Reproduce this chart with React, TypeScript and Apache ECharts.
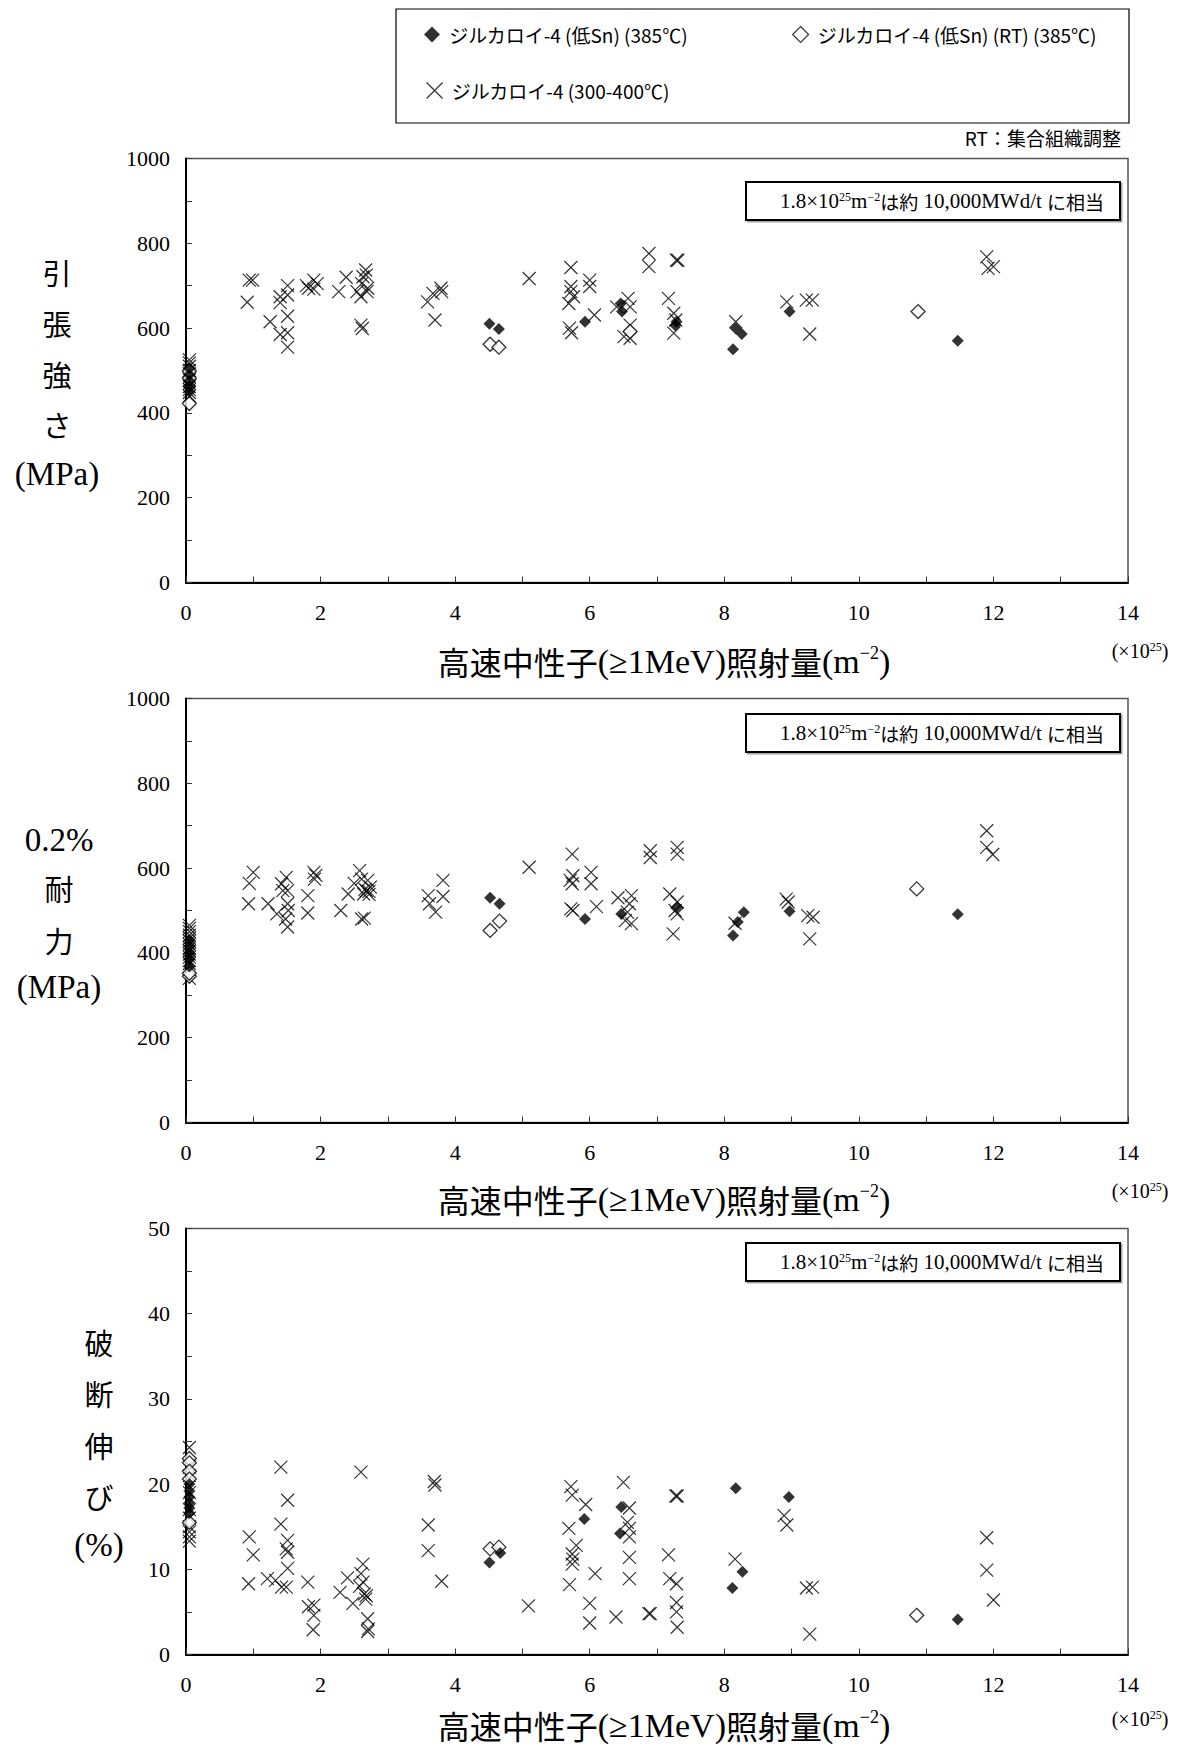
import React, { useEffect, useRef } from "react";
import * as echarts from "echarts";

// ---------- names ----------
const N_FILLED = "ジルカロイ-4 (低Sn) (385℃)";
const N_OPEN = "ジルカロイ-4 (低Sn) (RT) (385℃)";
const N_CROSS = "ジルカロイ-4 (300-400℃)";

// ---------- tick labels ----------
const X_LABELS = [0, 2, 4, 6, 8, 10, 12, 14];
const Y_LABELS_MPA = [0, 200, 400, 600, 800, 1000];
const Y_LABELS_PCT = [0, 10, 20, 30, 40, 50];

// ---------- tensile strength (MPa) ----------
const TS_CROSS: number[][] = [
  [0.05, 525], [0.05, 518], [0.05, 510], [0.05, 500], [0.05, 492], [0.05, 485], [0.05, 478], [0.05, 470],
  [0.05, 462], [0.05, 455], [0.05, 448], [0.05, 440],
  [0.91, 661], [0.94, 713], [0.99, 713], [1.25, 615], [1.4, 660], [1.4, 674], [1.4, 585],
  [1.51, 700], [1.51, 678], [1.51, 628], [1.51, 589], [1.51, 555],
  [1.79, 700], [1.82, 694], [1.9, 713], [1.9, 692], [1.95, 705],
  [2.27, 686], [2.38, 720], [2.54, 686], [2.6, 674], [2.61, 705], [2.63, 721], [2.67, 737], [2.68, 725],
  [2.69, 686], [2.7, 694], [2.6, 607], [2.62, 599],
  [3.59, 662], [3.67, 682], [3.79, 694], [3.8, 686], [3.7, 619],
  [5.1, 717],
  [5.72, 743], [5.72, 698], [5.72, 686], [5.69, 658], [5.76, 674], [5.7, 600], [5.73, 589],
  [6.0, 713], [6.0, 698], [6.07, 631],
  [6.4, 650], [6.57, 670], [6.6, 650], [6.6, 607], [6.51, 580], [6.6, 576],
  [6.88, 776], [6.88, 745],
  [7.29, 760], [7.31, 760],
  [7.17, 670], [7.25, 635], [7.25, 588], [7.28, 619],
  [8.17, 615], [8.93, 662],
  [9.22, 666], [9.31, 666], [9.27, 586],
  [11.9, 768], [11.92, 741], [12.0, 745],
];
const TS_OPEN: number[][] = [
  [0.05, 422], [0.05, 482], [0.05, 498], [4.52, 562], [4.65, 555], [6.6, 592], [10.88, 639],
];
const TS_FILLED: number[][] = [
  [0.05, 505], [0.05, 490], [0.05, 475], [0.05, 462], [0.05, 450],
  [4.51, 610], [4.65, 598], [5.93, 615], [6.46, 658], [6.48, 639], [7.29, 615], [7.27, 607],
  [8.13, 550], [8.17, 599], [8.26, 586], [8.97, 639], [11.47, 570],
];

// ---------- 0.2% proof stress (MPa) ----------
const YS_CROSS: number[][] = [
  [0.05, 465], [0.05, 458], [0.05, 450], [0.05, 442], [0.05, 435], [0.05, 428], [0.05, 420], [0.05, 412],
  [0.05, 405], [0.05, 397], [0.05, 390], [0.05, 382], [0.05, 375], [0.05, 340],
  [0.94, 564], [1.0, 590], [0.93, 516], [1.22, 516], [1.35, 492], [1.42, 563], [1.44, 547], [1.48, 480],
  [1.49, 578], [1.51, 547], [1.51, 516], [1.52, 500], [1.51, 461],
  [1.81, 535], [1.81, 494], [1.9, 590], [1.91, 574], [1.93, 583],
  [2.3, 500], [2.41, 539], [2.5, 564], [2.58, 594], [2.61, 574], [2.64, 539], [2.68, 547], [2.7, 571],
  [2.61, 480], [2.65, 482], [2.66, 550], [2.72, 545], [2.74, 555], [2.72, 538],
  [3.6, 535], [3.62, 516], [3.71, 496], [3.82, 571], [3.82, 533],
  [5.1, 602],
  [5.74, 633], [5.71, 571], [5.74, 563], [5.75, 582], [5.72, 504], [5.75, 500],
  [6.02, 590], [6.02, 563], [6.1, 509],
  [6.42, 530], [6.53, 476], [6.59, 516], [6.62, 535], [6.56, 496], [6.62, 469],
  [6.9, 641], [6.9, 625], [7.3, 649], [7.3, 633],
  [7.19, 539], [7.3, 520], [7.27, 500], [7.24, 445], [7.3, 492],
  [8.16, 470], [8.92, 527], [8.95, 520],
  [9.24, 488], [9.32, 484], [9.27, 433],
  [11.9, 688], [11.9, 649], [11.99, 632],
];
const YS_OPEN: number[][] = [
  [0.05, 345], [0.05, 352], [4.52, 453], [4.66, 475], [10.86, 551],
];
const YS_FILLED: number[][] = [
  [0.05, 430], [0.05, 415], [0.05, 400], [0.05, 385], [0.05, 368],
  [4.52, 530], [4.66, 516], [5.93, 480], [6.47, 492], [7.3, 508], [8.13, 441], [8.2, 473], [8.29, 496],
  [8.97, 498], [11.47, 491],
];

// ---------- elongation (%) ----------
const EL_CROSS: number[][] = [
  [0.05, 24.3], [0.05, 22.0], [0.05, 21.0], [0.05, 19.0], [0.05, 17.0], [0.05, 16.0], [0.05, 15.0],
  [0.05, 14.4], [0.05, 13.8], [0.05, 13.3],
  [0.94, 13.8], [1.0, 11.7], [0.93, 8.3], [1.21, 8.9], [1.33, 8.7], [1.41, 22.0], [1.41, 15.3], [1.42, 7.9],
  [1.51, 18.1], [1.51, 13.4], [1.49, 12.4], [1.51, 12.0], [1.51, 10.1], [1.49, 7.9],
  [1.81, 8.5], [1.82, 5.6], [1.9, 5.8], [1.9, 4.6], [1.89, 2.9],
  [2.29, 7.3], [2.4, 9.0], [2.48, 6.0], [2.58, 8.0], [2.6, 21.4], [2.63, 10.6], [2.6, 9.5], [2.63, 8.5],
  [2.65, 7.1], [2.68, 6.9], [2.67, 6.5], [2.7, 4.2], [2.7, 2.7], [2.71, 3.0],
  [3.6, 15.2], [3.6, 12.2], [3.69, 20.3], [3.7, 19.9], [3.8, 8.6],
  [5.09, 5.7],
  [5.72, 19.7], [5.74, 18.7], [5.69, 14.8], [5.8, 12.8], [5.74, 11.8], [5.75, 11.2], [5.74, 10.6], [5.7, 8.2],
  [5.94, 17.6], [6.0, 6.0], [6.0, 3.7], [6.08, 9.5],
  [6.39, 4.4], [6.5, 20.2], [6.59, 17.2], [6.56, 15.5], [6.59, 14.8], [6.59, 13.8], [6.59, 11.4], [6.59, 8.9],
  [6.88, 4.8], [6.9, 4.8],
  [7.17, 11.7], [7.19, 8.9], [7.29, 8.3], [7.29, 6.1], [7.29, 5.0], [7.3, 3.2], [7.28, 18.6], [7.3, 18.6],
  [8.16, 11.2], [8.89, 16.3], [8.93, 15.2],
  [9.22, 7.8], [9.31, 7.9], [9.27, 2.4],
  [11.9, 13.7], [11.9, 9.9], [12.0, 6.4],
];
const EL_OPEN: number[][] = [
  [0.05, 23.0], [0.05, 22.5], [0.05, 21.5], [0.05, 20.6], [0.05, 15.5],
  [4.52, 12.4], [4.65, 12.6], [10.86, 4.6],
];
const EL_FILLED: number[][] = [
  [0.05, 20.0], [0.05, 19.2], [0.05, 18.5], [0.05, 17.8], [0.05, 17.2], [0.05, 16.6],
  [4.51, 10.8], [4.67, 11.9], [5.92, 15.9], [6.47, 17.3], [6.45, 14.2], [8.17, 19.5], [8.27, 9.7],
  [8.12, 7.8], [8.96, 18.5], [11.47, 4.1],
];

// ---------- texts ----------
const X_TITLE = "高速中性子{l|(≥1MeV)}照射量{l|(m}{s|−2}{l|)}";
const X_UNIT = "(×10{s|25})";
const NOTE = "1.8×10{s|25}m{s|−2}{j|は約} 10,000MWd/t {j|に相当}";
const RT_NOTE = "RT：集合組織調整";
const Y_TITLES = [
  ["引", "張", "強", "さ", "(MPa)"],
  ["0.2%", "耐", "力", "(MPa)"],
  ["破", "断", "伸", "び", "(%)"],
];

const SERIF = '"Liberation Serif", "DejaVu Serif", "Noto Sans CJK JP", serif';
const CJK = '"Noto Sans CJK JP", "Liberation Serif", sans-serif';
const CROSS = "path://M0,0L10,10M10,0L0,10";

const PANELS = [
  { cross: TS_CROSS, open: TS_OPEN, filled: TS_FILLED, yMax: 1000, yStep: 100, yLabels: Y_LABELS_MPA,
    top: 158.5, height: 424, titleY: 661, unitY: 651, noteY: 182,
    yTitleX: 57, yTitleYs: [272, 323, 374, 424, 474] },
  { cross: YS_CROSS, open: YS_OPEN, filled: YS_FILLED, yMax: 1000, yStep: 100, yLabels: Y_LABELS_MPA,
    top: 698.5, height: 424, titleY: 1199, unitY: 1191, noteY: 714,
    yTitleX: 59, yTitleYs: [840, 888, 940, 987] },
  { cross: EL_CROSS, open: EL_OPEN, filled: EL_FILLED, yMax: 50, yStep: 5, yLabels: Y_LABELS_PCT,
    top: 1228.5, height: 426, titleY: 1725, unitY: 1719, noteY: 1243,
    yTitleX: 99, yTitleYs: [1342, 1393, 1445, 1496, 1545] },
];

const GRID_LEFT = 186;
const GRID_WIDTH = 942;

export default function App() {
  const ref = useRef<HTMLDivElement>(null);
  useEffect(() => {
    document.body.style.margin = "0";
    document.body.style.overflow = "hidden";
    const chart = echarts.init(ref.current!, null, { renderer: "svg" });

    const grid: any[] = [];
    const xAxis: any[] = [];
    const yAxis: any[] = [];
    const series: any[] = [];
    const graphic: any[] = [];

    PANELS.forEach((p, i) => {
      grid.push({
        left: GRID_LEFT, top: p.top, width: GRID_WIDTH, height: p.height,
        show: true, borderColor: "#555", borderWidth: 1.5, backgroundColor: "transparent",
      });
      xAxis.push({
        gridIndex: i, type: "value", min: 0, max: 14, interval: 1,
        axisLine: { show: true, onZero: false, lineStyle: { color: "#000", width: 2 } },
        axisTick: { show: true, inside: true, length: 6, lineStyle: { color: "#333", width: 1 } },
        axisLabel: {
          margin: 19, color: "#000", fontFamily: SERIF, fontSize: 22,
          formatter: (v: number) => (X_LABELS.includes(v) ? String(v) : ""),
        },
        splitLine: { show: false },
      });
      yAxis.push({
        gridIndex: i, type: "value", min: 0, max: p.yMax, interval: p.yStep,
        axisLine: { show: true, onZero: false, lineStyle: { color: "#000", width: 2 } },
        axisTick: { show: true, inside: true, length: 6, lineStyle: { color: "#333", width: 1 } },
        axisLabel: {
          margin: 16, color: "#000", fontFamily: SERIF, fontSize: 22,
          formatter: (v: number) => (p.yLabels.includes(v) ? String(v) : ""),
        },
        splitLine: { show: false },
      });
      series.push({
        name: N_CROSS, type: "scatter", xAxisIndex: i, yAxisIndex: i, data: p.cross,
        symbol: CROSS, symbolSize: 13, z: 2,
        itemStyle: { color: "rgba(0,0,0,0)", borderColor: "#000", borderWidth: 1.2 },
      });
      series.push({
        name: N_OPEN, type: "scatter", xAxisIndex: i, yAxisIndex: i, data: p.open,
        symbol: "diamond", symbolSize: 14, z: 3,
        itemStyle: { color: "#fff", borderColor: "#000", borderWidth: 1.3 },
      });
      series.push({
        name: N_FILLED, type: "scatter", xAxisIndex: i, yAxisIndex: i, data: p.filled,
        symbol: "diamond", symbolSize: 12, z: 4,
        itemStyle: { color: "#000" },
      });

      // x axis title
      graphic.push({
        type: "text", x: 664, y: p.titleY, z: 10,
        style: {
          text: X_TITLE, fill: "#000", font: `32px ${CJK}`,
          align: "center", verticalAlign: "middle",
          rich: {
            l: { fontSize: 34, fontFamily: SERIF, fill: "#000" },
            s: { fontSize: 18, fontFamily: SERIF, verticalAlign: "top", fill: "#000" },
          },
        },
      });
      // unit
      graphic.push({
        type: "text", x: 1140, y: p.unitY, z: 10,
        style: {
          text: X_UNIT, fill: "#000", font: `20px ${SERIF}`,
          align: "center", verticalAlign: "middle",
          rich: { s: { fontSize: 12, fontFamily: SERIF, verticalAlign: "top", fill: "#000" } },
        },
      });
      // note box
      graphic.push({
        type: "rect", z: 10,
        shape: { x: 746, y: p.noteY, width: 374, height: 38 },
        style: { fill: "#fff", stroke: "#000", lineWidth: 2, shadowColor: "rgba(0,0,0,0.35)", shadowOffsetX: 1.5, shadowOffsetY: 1.5, shadowBlur: 1 },
      });
      graphic.push({
        type: "text", x: 942, y: p.noteY + 19, z: 11,
        style: {
          text: NOTE, fill: "#000", font: `21px ${SERIF}`,
          align: "center", verticalAlign: "middle",
          rich: {
            s: { fontSize: 12, fontFamily: SERIF, verticalAlign: "top", fill: "#000" },
            j: { fontSize: 19, fontFamily: CJK, fill: "#000" },
          },
        },
      });
      // y axis title (stacked)
      Y_TITLES[i].forEach((t, k) => {
        const isCjk = /[\u3040-\u9fff]/.test(t);
        graphic.push({
          type: "text", x: p.yTitleX, y: p.yTitleYs[k], z: 10,
          style: {
            text: t, fill: "#000",
            font: isCjk ? `29px ${CJK}` : `33px ${SERIF}`,
            align: "center", verticalAlign: "middle",
          },
        });
      });
    });

    // legend frame and RT note
    graphic.push({
      type: "rect", z: 10,
      shape: { x: 396, y: 9, width: 733, height: 114 },
      style: { fill: "none", stroke: "#000", lineWidth: 1.2 },
    });
    graphic.push({
      type: "text", x: 1121, y: 137, z: 10,
      style: { text: RT_NOTE, fill: "#000", font: `19px ${CJK}`, align: "right", verticalAlign: "middle" },
    });

    const legendText = { color: "#000", fontFamily: CJK, fontSize: 19 };
    const legendCommon = {
      orient: "horizontal", itemWidth: 16, itemHeight: 16, selectedMode: false,
      textStyle: legendText, itemStyle: { borderWidth: 1.2 }, formatter: " {name}",
    };

    chart.setOption({
      animation: false,
      backgroundColor: "#fff",
      grid,
      xAxis,
      yAxis,
      series,
      graphic,
      legend: [
        { ...legendCommon, data: [N_FILLED], left: 419, top: 20 },
        { ...legendCommon, data: [N_OPEN], left: 787, top: 20 },
        { ...legendCommon, data: [N_CROSS], left: 421, top: 76 },
      ],
    });
    return () => chart.dispose();
  }, []);
  return <div ref={ref} style={{ width: 1185, height: 1749 }} />;
}
